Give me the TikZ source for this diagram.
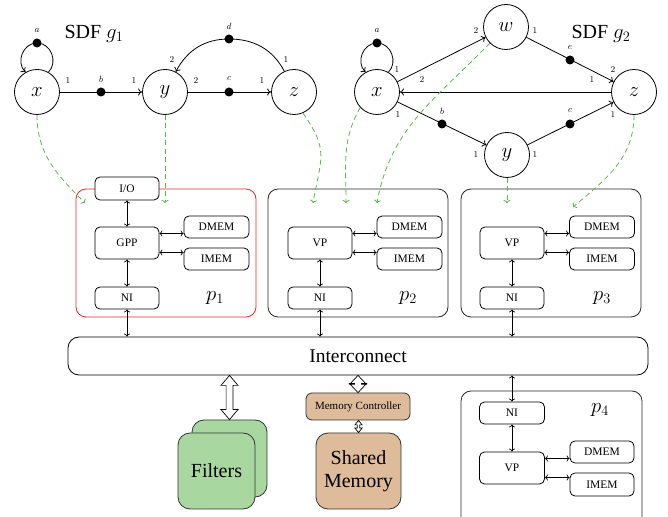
\documentclass[tikz,border=0pt]{standalone}
\usepackage{fontspec}
\setmainfont{Liberation Serif}
\usetikzlibrary{arrows.meta,calc}

\definecolor{dgreen}{RGB}{90,180,80}
\definecolor{pred}{RGB}{230,40,40}
\definecolor{fgreen}{RGB}{168,216,160}
\definecolor{mtan}{RGB}{222,187,155}

% hollow double arrow: top, bottom, head half width, shaft half width, head length
\newcommand{\hollowdarrow}[5]{%
  \draw[line width=0.7pt, fill=white] (#1) -- ++(#3,-#5) -- ++(-#3+#4,0) -- ($(#2)+(#4,#5)$) -- ++(#3-#4,0) -- (#2) -- ++(-#3,#5) -- ++(#3-#4,0) -- ($(#1)+(-#4,-#5)$) -- ++(-#3+#4,0) -- cycle;}

\tikzset{
  actor/.style={circle, draw, line width=0.8pt, minimum size=45pt, inner sep=0pt, fill=white, font=\fontsize{20}{24}\selectfont},
  token/.style={circle, fill=black, minimum size=9pt, inner sep=0pt},
  rate/.style={font=\fontsize{9}{10}\selectfont, inner sep=0pt},
  sdfedge/.style={line width=0.8pt, -{To[length=4pt,width=7pt]}},
  mapping/.style={dgreen, line width=0.8pt, dash pattern=on 5pt off 3.5pt, -{To[length=3pt,width=7pt]}},
  biarrow/.style={line width=0.7pt, {To[length=3pt,width=6pt]}-{To[length=3pt,width=6pt]}},
  pbox/.style={draw=black!85, line width=0.8pt, rounded corners=10pt, minimum width=180pt, minimum height=128pt},
  unit/.style={draw, fill=white, line width=0.8pt, rounded corners=5pt, inner sep=0pt, font=\fontsize{11.5}{13}\selectfont},
  cpu/.style={unit, minimum width=64pt, minimum height=32pt},
  small/.style={unit, minimum width=64pt, minimum height=22pt},
  memu/.style={unit, minimum width=65pt, minimum height=22pt},
  plab/.style={inner sep=0pt, font=\fontsize{20}{24}\selectfont},
  bigtext/.style={font=\fontsize{20}{24}\selectfont},
}

\begin{document}
\begin{tikzpicture}[x=1pt,y=1pt]
\useasboundingbox (0,0) rectangle (668,516);
\clip (0,0) rectangle (668,516);

% ---------------- SDF g1 ----------------
\node[bigtext] (t1) at (94,482) {SDF $g_1$};
\node[actor] (x1) at (37,424) {$x$};
\node[actor] (y1) at (165,424) {$y$};
\node[actor] (z1) at (294,424) {$z$};
\node[token] (a1) at (37,473) {};
\node[token] (b1) at (101,424) {};
\node[token] (c1) at (229,424) {};
\node[token] (d1) at (229,477) {};
\draw[sdfedge] (x1) -- (y1);
\draw[sdfedge] (y1) -- (z1);
\draw[sdfedge] (z1.115) to[out=118,in=0] (d1.center) to[out=180,in=62] (y1.62);
\draw[sdfedge] (x1.60) to[out=45,in=0,looseness=1.15] (a1.center) to[out=180,in=135,looseness=1.15] (x1.120);
\node[rate] (la1) at (37,485) {$a$};
\node[rate] (lb1) at (101,437) {$b$};
\node[rate] (lc1) at (229,437) {$c$};
\node[rate] (ld1) at (229,490) {$d$};
\node[rate] (r11) at (68,435) {$1$};
\node[rate] (r12) at (134,435) {$1$};
\node[rate] (r13) at (196,435) {$2$};
\node[rate] (r14) at (262,435) {$1$};
\node[rate] (r15) at (172,456) {$2$};
\node[rate] (r16) at (286,456) {$1$};

% ---------------- SDF g2 ----------------
\node[bigtext] (t2) at (601,482) {SDF $g_2$};
\node[actor] (x2) at (377,424) {$x$};
\node[actor] (w2) at (506,489) {$w$};
\node[actor] (z2) at (634,424) {$z$};
\node[actor] (y2) at (507,361) {$y$};
\node[token] (a2) at (377,473) {};
\node[token] (b2) at (442,392) {};
\node[token] (c2) at (570,392) {};
\node[token] (e2) at (570,456) {};
\draw[sdfedge] (x2) -- (w2);
\draw[sdfedge] (w2) -- (z2);
\draw[sdfedge] (x2) -- (y2);
\draw[sdfedge] (y2) -- (z2);
\draw[sdfedge] (z2) -- (x2);
\draw[sdfedge] (x2.60) to[out=45,in=0,looseness=1.15] (a2.center) to[out=180,in=135,looseness=1.15] (x2.120);
\node[rate] (la2) at (377,485) {$a$};
\node[rate] (lb2) at (442,405) {$b$};
\node[rate] (lc2) at (570,405) {$c$};
\node[rate] (le2) at (570,468) {$e$};
\node[rate] (r21) at (397,446) {$1$};
\node[rate] (r22) at (422,436) {$2$};
\node[rate] (r23) at (476,485) {$2$};
\node[rate] (r24) at (535,485) {$1$};
\node[rate] (r25) at (613,446) {$2$};
\node[rate] (r26) at (592,436) {$1$};
\node[rate] (r27) at (398,401) {$1$};
\node[rate] (r28) at (476,361) {$1$};
\node[rate] (r29) at (535,361) {$1$};
\node[rate] (r30) at (613,401) {$1$};

% ---------------- Interconnect ----------------
\node[draw, line width=0.8pt, rounded corners=11pt, minimum width=580pt, minimum height=38pt, inner sep=0pt, font=\fontsize{19.5}{23}\selectfont] (ic) at (358,160) {Interconnect};

% ---------------- p1 ----------------
\node[pbox, draw=pred] (p1) at (166,263) {};
\node[small, minimum height=23pt] (io) at (127,327.5) {I/O};
\node[cpu] (gpp) at (127,273) {GPP};
\node[memu] (dm1) at (216.5,289) {DMEM};
\node[memu] (im1) at (216.5,257) {IMEM};
\node[small] (ni1) at (127,218) {NI};
\node[plab] (pl1) at (215,218) {$p_1$};
\draw[biarrow] (io) -- (gpp);
\draw[biarrow] (gpp) -- (ni1);
\coordinate (g1a) at ([yshift=9.5pt]gpp.east);
\coordinate (g1b) at ([yshift=-9.5pt]gpp.east);
\draw[biarrow] (g1a) -- (g1a -| dm1.west);
\draw[biarrow] (g1b) -- (g1b -| im1.west);
\draw[biarrow] (ni1) -- (ni1 |- ic.north);

% ---------------- p2 ----------------
\node[pbox] (p2) at (358,263) {};
\node[cpu] (vp2) at (320,273) {VP};
\node[memu] (dm2) at (409.5,289) {DMEM};
\node[memu] (im2) at (409.5,257) {IMEM};
\node[small] (ni2) at (320,218) {NI};
\node[plab] (pl2) at (408,218) {$p_2$};
\draw[biarrow] (vp2) -- (ni2);
\coordinate (g2a) at ([yshift=9.5pt]vp2.east);
\coordinate (g2b) at ([yshift=-9.5pt]vp2.east);
\draw[biarrow] (g2a) -- (g2a -| dm2.west);
\draw[biarrow] (g2b) -- (g2b -| im2.west);
\draw[biarrow] (ni2) -- (ni2 |- ic.north);

% ---------------- p3 ----------------
\node[pbox] (p3) at (551,263) {};
\node[cpu] (vp3) at (512,273) {VP};
\node[memu] (dm3) at (602,289) {DMEM};
\node[memu] (im3) at (602,257) {IMEM};
\node[small] (ni3) at (512,218) {NI};
\node[plab] (pl3) at (602,218) {$p_3$};
\draw[biarrow] (vp3) -- (ni3);
\coordinate (g3a) at ([yshift=9.5pt]vp3.east);
\coordinate (g3b) at ([yshift=-9.5pt]vp3.east);
\draw[biarrow] (g3a) -- (g3a -| dm3.west);
\draw[biarrow] (g3b) -- (g3b -| im3.west);
\draw[biarrow] (ni3) -- (ni3 |- ic.north);

% ---------------- p4 ----------------
\node[pbox, minimum width=181pt, minimum height=150pt] (p4) at (551.5,50) {};
\node[small, minimum width=65pt] (ni4) at (512,103) {NI};
\node[cpu, minimum width=65pt] (vp4) at (512,48) {VP};
\node[memu, minimum width=64pt] (dm4) at (602,64) {DMEM};
\node[memu, minimum width=64pt, minimum height=23pt] (im4) at (602,31.5) {IMEM};
\node[plab] (pl4) at (600,106) {$p_4$};
\draw[biarrow] (ni4.north |- ic.south) -- (ni4.north);
\draw[biarrow] (ni4) -- (vp4);
\coordinate (g4a) at ([yshift=9.5pt]vp4.east);
\coordinate (g4b) at ([yshift=-9.5pt]vp4.east);
\draw[biarrow] (g4a) -- (g4a -| dm4.west);
\draw[biarrow] (g4b) -- (g4b -| im4.west);

% ---------------- Filters & memory ----------------
\node[draw=black!80, fill=fgreen, line width=0.8pt, rounded corners=12pt, minimum width=75pt, minimum height=77pt] (filb) at (229.5,57.5) {};
\node[draw=black!80, fill=fgreen, line width=0.8pt, rounded corners=12pt, minimum width=77pt, minimum height=76pt, font=\fontsize{20}{24}\selectfont] (filf) at (216.5,45) {Filters};
\node[draw=black!80, fill=mtan, line width=0.8pt, rounded corners=6pt, minimum width=104pt, minimum height=27pt, inner sep=0pt, font=\fontsize{11}{13}\selectfont] (mc) at (358,109.5) {Memory Controller};
\node[draw=black!80, fill=mtan, line width=0.8pt, rounded corners=12pt, minimum width=85pt, minimum height=76pt, align=center, font=\fontsize{20}{23}\selectfont] (sm) at (358.5,45) {Shared\\Memory};

\coordinate (fat) at (ic.south -| filb.north);
\hollowdarrow{fat}{filb.north}{8.5}{3.4}{10}
\coordinate (mat) at (ic.south -| mc.north);
\hollowdarrow{mat}{mc.north}{8.5}{3.4}{9}
\coordinate (sat) at (mc.south -| sm.north);
\hollowdarrow{sat}{sm.north}{3.6}{1.3}{4.5}

% ---------------- mappings ----------------
\coordinate (m1) at (85,313);
\coordinate (m2) at (165,313);
\coordinate (m3) at (313,313);
\coordinate (m4) at (346,313);
\coordinate (m5) at (377,313);
\coordinate (m6) at (507,313);
\coordinate (m7) at (573,309);
\draw[mapping] (x1.south) to[out=-90,in=135] (m1);
\draw[mapping] (y1.south) -- (m2);
\draw[mapping] (z1.-67) to[out=-55,in=80,looseness=1.3] (m3);
\draw[mapping] (x2.223) to[out=-120,in=90] (m4);
\draw[mapping] (w2.225) to[out=-134,in=80] (m5);
\draw[mapping] (y2.south) -- (m6);
\draw[mapping] (z2.south) to[out=-90,in=40] (m7);
\end{tikzpicture}
\end{document}
